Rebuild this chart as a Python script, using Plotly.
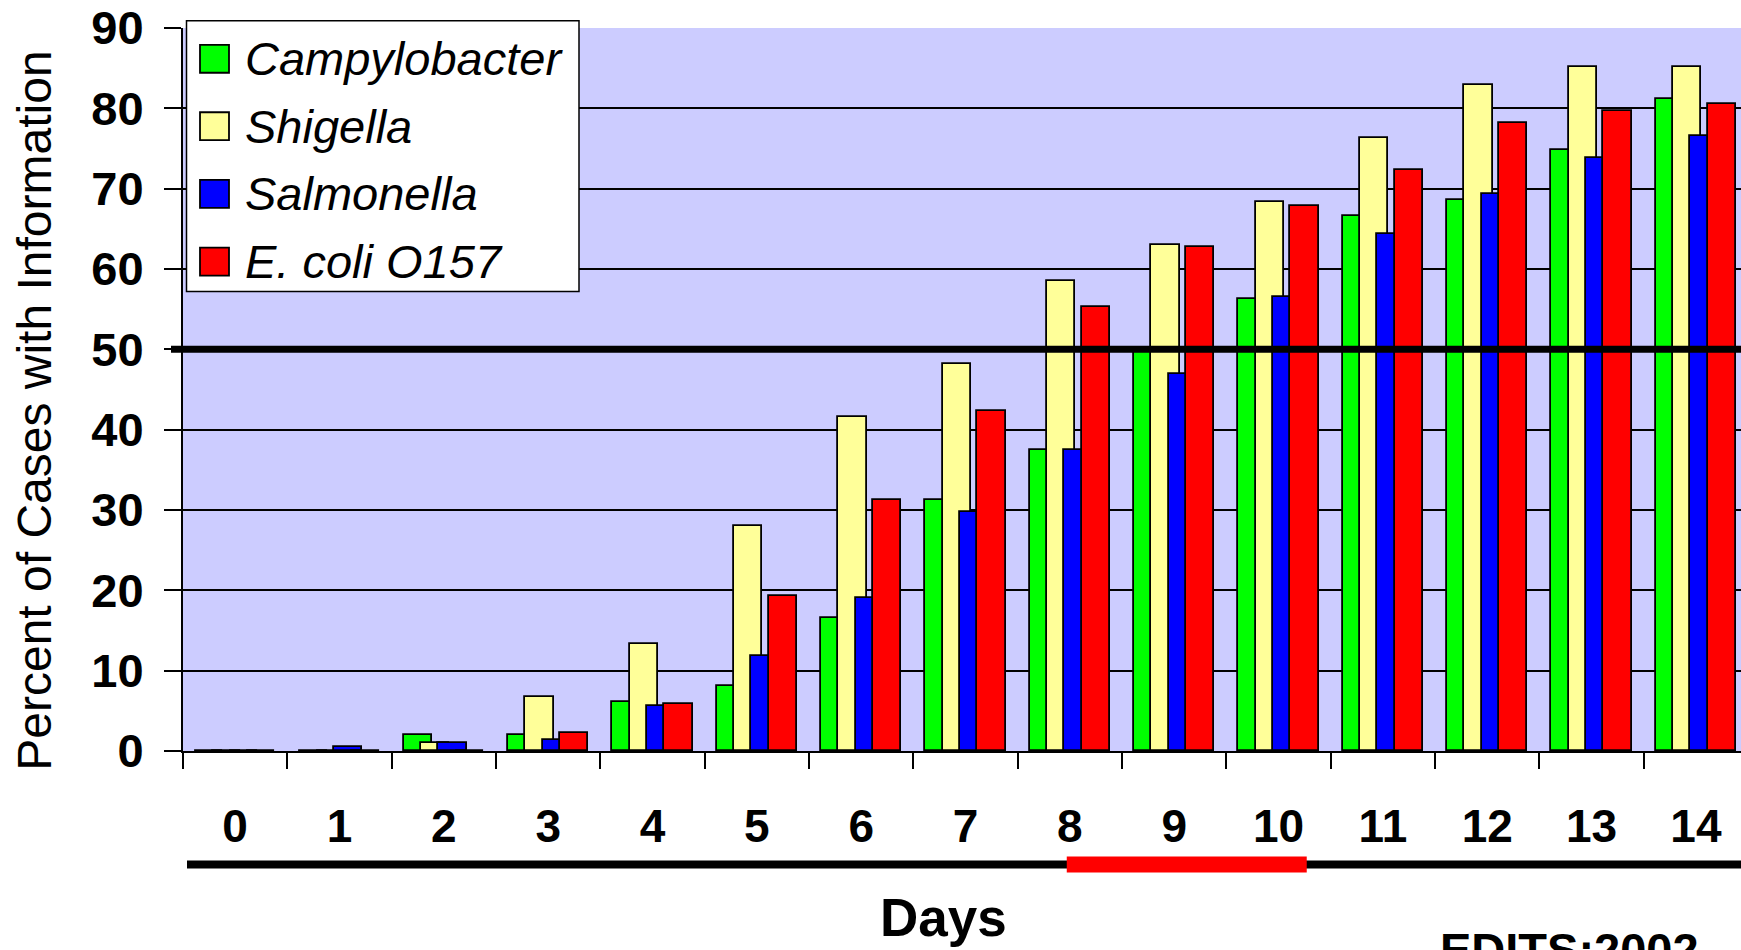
import plotly.graph_objects as go

# Days since onset and percent of cases with information, by pathogen
days = [str(d) for d in range(15)]
campylobacter = [0, 0, 2.0, 2.0, 6.1, 8.1, 16.5, 31.2, 37.5, 50.2, 56.3, 66.6, 68.6, 74.8, 81.2]
shigella = [0, 0, 1.0, 6.7, 13.3, 28.0, 41.6, 48.2, 58.5, 63.0, 68.4, 76.3, 82.9, 85.1, 85.1]
salmonella = [0, 0.5, 1.0, 1.4, 5.6, 11.8, 19.0, 29.7, 37.5, 46.9, 56.5, 64.4, 69.3, 73.8, 76.5]
ecoli = [0, 0, 0, 2.2, 5.9, 19.3, 31.2, 42.3, 55.3, 62.8, 67.8, 72.3, 78.2, 79.7, 80.5]

series_names = ["Campylobacter", "Shigella", "Salmonella", "E. coli O157"]
series_values = [campylobacter, shigella, salmonella, ecoli]
series_colors = ["#00FF00", "#FFFF99", "#0000FF", "#FF0000"]

y_ticks = list(range(0, 100, 10))
threshold = 50
highlight_days = (7.97, 10.27)

W, H = 1741, 950
L, R, T, B = 183, W, 28, 751.5  # plot area in pixels (B = baseline)
FONT = "Liberation Sans, Arial, sans-serif"


def px_x(px):
    return (px - L) / (R - L)


def px_y(py):
    return (B - py) / (B - T)


fig = go.Figure()
for i, (name, vals, col) in enumerate(zip(series_names, series_values, series_colors)):
    fig.add_trace(go.Bar(
        x=days, y=vals, name=name,
        offset=-0.385 + i * 0.166, width=0.271,
        marker=dict(color=col, line=dict(color="black", width=1.8)),
        opacity=1, showlegend=False,
    ))

shapes = []
annotations = []

# Thick reference line at 50 %
shapes.append(dict(type="line", xref="paper", yref="y",
                   x0=px_x(171), x1=1.0, y0=threshold, y1=threshold,
                   line=dict(color="black", width=7)))

# Rule under the day labels, with a highlighted span
yb = px_y(865)
shapes.append(dict(type="line", xref="paper", yref="paper",
                   x0=px_x(187), x1=1.0, y0=yb, y1=yb,
                   line=dict(color="black", width=8)))
shapes.append(dict(type="line", xref="x", yref="paper",
                   x0=highlight_days[0], x1=highlight_days[1], y0=yb, y1=yb,
                   line=dict(color="#FF0000", width=16)))

# Legend box
shapes.append(dict(type="rect", xref="paper", yref="paper",
                   x0=px_x(186.5), x1=px_x(579), y0=px_y(291.7), y1=px_y(20.7),
                   fillcolor="white", line=dict(color="black", width=1.5), layer="above"))
row_centers = [58.8, 126.3, 194.0, 261.7]
for name, col, cy in zip(series_names, series_colors, row_centers):
    shapes.append(dict(type="rect", xref="paper", yref="paper",
                       x0=px_x(200), x1=px_x(229), y0=px_y(cy + 14), y1=px_y(cy - 14),
                       fillcolor=col, line=dict(color="black", width=1.8), layer="above"))
    annotations.append(dict(xref="paper", yref="paper", x=px_x(243), y=px_y(cy),
                            xanchor="left", yanchor="middle", showarrow=False,
                            text="<i>%s</i>" % name,
                            font=dict(family=FONT, size=47, color="black")))

# Axis titles and note
annotations.append(dict(xref="paper", yref="paper", x=px_x(35), y=px_y(411),
                        xanchor="center", yanchor="middle", showarrow=False,
                        textangle=-90, text="Percent of Cases with Information",
                        font=dict(family=FONT, size=48, color="black")))
annotations.append(dict(xref="paper", yref="paper", x=px_x(943), y=px_y(918),
                        xanchor="center", yanchor="middle", showarrow=False,
                        text="<b>Days</b>",
                        font=dict(family=FONT, size=53, color="black")))
annotations.append(dict(xref="paper", yref="paper", x=px_x(1438), y=px_y(922),
                        xanchor="left", yanchor="top", showarrow=False,
                        text="<b>EDITS:2002</b>",
                        font=dict(family=FONT, size=47, color="black")))

fig.update_layout(
    width=W, height=H,
    margin=dict(l=L, r=0, t=T, b=H - B, pad=0),
    paper_bgcolor="white", plot_bgcolor="#CCCCFF",
    barmode="overlay", bargap=0,
    shapes=shapes, annotations=annotations,
    font=dict(family=FONT, color="black"),
)
fig.update_xaxes(
    type="category", range=[-0.5, -0.5 + (R - L) / 104.34],
    tickson="boundaries", ticks="outside", ticklen=16, tickwidth=1.5, tickcolor="black",
    showgrid=False, showline=True, linecolor="black", linewidth=2,
    tickfont=dict(family=FONT, size=46, color="black"),
    ticklabelstandoff=34, tickprefix="<b>", ticksuffix="</b>",
)
fig.update_yaxes(
    range=[0, 90], tickvals=y_ticks, ticktext=["<b>%d</b>" % v for v in y_ticks],
    ticks="outside", ticklen=17, tickwidth=1.5, tickcolor="black",
    showgrid=True, gridcolor="black", gridwidth=1.5,
    showline=True, linecolor="black", linewidth=2, zeroline=False,
    tickfont=dict(family=FONT, size=47, color="black"),
    ticklabelstandoff=11,
)

fig.write_html("out.html")
